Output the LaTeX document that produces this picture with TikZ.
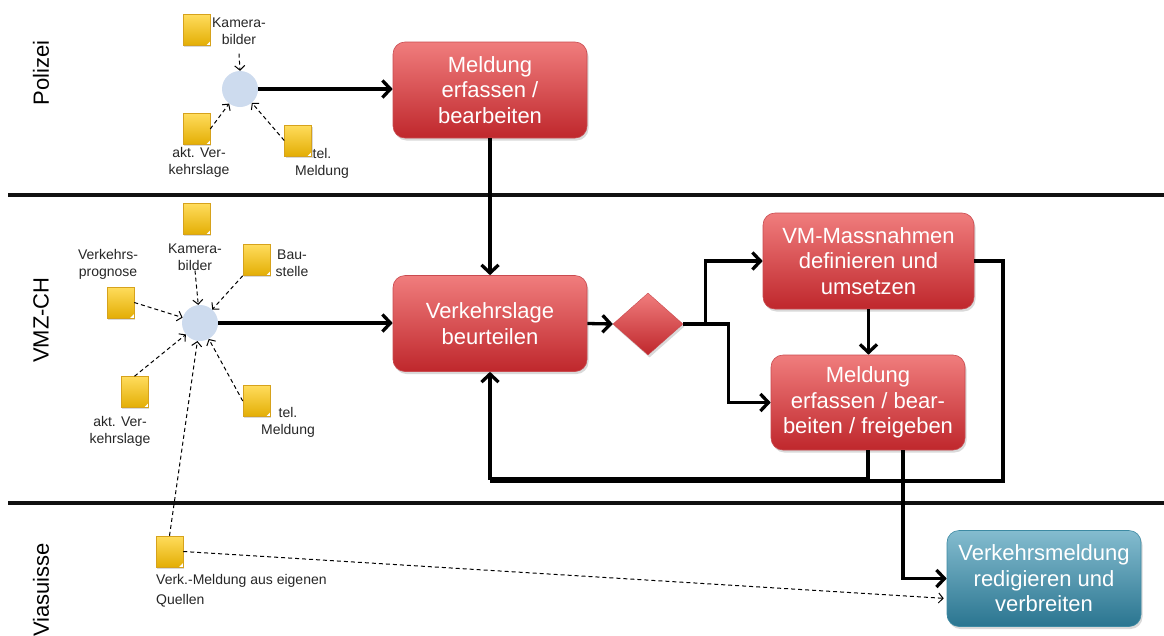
\documentclass[tikz,border=0pt]{standalone}
\usepackage{fontspec}
\setmainfont{Liberation Sans}
\usetikzlibrary{arrows.meta,shapes.geometric,shadows}
\definecolor{redtop}{HTML}{F07D7D}
\definecolor{redbot}{HTML}{BF272C}
\definecolor{redline}{HTML}{C94A4F}
\definecolor{bluetop}{HTML}{84BCCF}
\definecolor{bluebot}{HTML}{2A7590}
\definecolor{blueline}{HTML}{3D8AA3}
\definecolor{yeltop}{HTML}{FFDC5C}
\definecolor{yelbot}{HTML}{E3AE05}
\definecolor{yelline}{HTML}{D6A21C}
\definecolor{circfill}{HTML}{CDDBEE}
\definecolor{lanecol}{HTML}{111111}
\begin{document}
\begin{tikzpicture}[x=1pt,y=-1pt,
  proc/.style={rounded corners=12pt, top color=redtop, bottom color=redbot, draw=redline, line width=0.6pt,
    text=white, align=center, font=\fontsize{22}{25.5}\selectfont, minimum width=194pt, minimum height=96pt,
    inner sep=0pt, drop shadow={shadow xshift=1.5pt, shadow yshift=-2.5pt, opacity=0.3}},
  bproc/.style={proc, top color=bluetop, bottom color=bluebot, draw=blueline},
  dec/.style={diamond, aspect=1.13, minimum width=70pt, minimum height=62pt, inner sep=0pt,
    top color=redtop, bottom color=redbot, draw=redline, line width=0.4pt,
    drop shadow={shadow xshift=1.5pt, shadow yshift=-2.5pt, opacity=0.3}},
  note/.style={minimum width=27pt, minimum height=31pt, inner sep=0pt, top color=yeltop, bottom color=yelbot,
    draw=yelline, line width=0.5pt, drop shadow={shadow xshift=1pt, shadow yshift=-1.5pt, opacity=0.3},
    path picture={\fill[white] (path picture bounding box.south east) -- ++(-4pt,0) -- ++(4pt,4pt) -- cycle;}},
  hub/.style={circle, fill=circfill, minimum size=36pt, inner sep=0pt},
  lbl/.style={align=center, font=\fontsize{14}{17}\selectfont, inner sep=0pt, text=black!85},
  lane/.style={font=\fontsize{22}{26}\selectfont, rotate=90, inner sep=0pt},
  flow/.style={line width=3.3pt, -{Straight Barb[length=8pt,width=17pt]}},
  plain/.style={line width=3.3pt},
  dflow/.style={line width=1pt, dash pattern=on 4pt off 3pt, -{Straight Barb[length=4.5pt,width=10pt]}},
  sep/.style={line width=3.3pt, draw=lanecol}
]
\useasboundingbox (0,0) rectangle (1164,635);

% lane separators
\coordinate (s1a) at (8,195); \coordinate (s1b) at (1164,195);
\coordinate (s2a) at (8,503); \coordinate (s2b) at (1164,503);
\draw[sep] (s1a) -- (s1b);
\draw[sep] (s2a) -- (s2b);

% lane labels
\node[lane] (lp) at (41,73) {Polizei};
\node[lane] (lv) at (41,320) {VMZ-CH};
\node[lane] (lw) at (41,590) {Viasuisse};

% ---- Polizei lane
\node[hub] (pc) at (240,89) {};
\node[note] (pk) at (196.5,30) {};
\node[lbl] (pkl) at (239,31) {Kamera-\\bilder};
\node[note] (pa) at (196.5,129) {};
\node[lbl] (pal) at (199,162) {akt. Ver-\\kehrslage};
\node[note] (pt) at (298,140.5) {};
\node[lbl] (ptl) at (322,163) {tel.\\Meldung};
\node[proc] (pbox) at (490,90) {Meldung\\erfassen /\\bearbeiten};

\draw[dflow] ([yshift=-9pt]pkl.south) -- (pc.north);
\draw[dflow] (pa.east) -- (pc);
\draw[dflow] (pt.west) -- (pc);
\draw[flow] (pc.east) -- (pc.east -| pbox.west);

% ---- VMZ-CH lane
\node[hub] (vc) at (200,323) {};
\node[note] (vk) at (196.5,219) {};
\node[lbl] (vkl) at (195,257) {Kamera-\\bilder};
\node[note] (vb) at (256.5,260) {};
\node[lbl] (vbl) at (292,263) {Bau-\\stelle};
\node[note] (vp) at (120.5,302.5) {};
\node[lbl] (vpl) at (108,264) {Verkehrs-\\prognose};
\node[note] (va) at (134.5,392) {};
\node[lbl] (val) at (120,431) {akt. Ver-\\kehrslage};
\node[note] (vt) at (256.5,401) {};
\node[lbl] (vtl) at (288,422) {tel.\\Meldung};

\node[proc] (vl) at (490,323.5) {Verkehrslage\\beurteilen};
\node[dec] (dia) at (648,324) {};
\node[proc, minimum width=211pt] (vm) at (868.5,261) {VM-Massnahmen\\definieren und\\umsetzen};
\node[proc, minimum height=95pt] (me) at (868,402.5) {Meldung\\erfassen / bear-\\beiten / freigeben};

\draw[dflow] (vkl.south) -- (vc);
\draw[dflow] (vb.south west) -- (vc);
\draw[dflow] (vp.east) -- (vc);
\draw[dflow] (va.north) -- (vc);
\draw[dflow] (vt.west) -- (vc);
\draw[flow] (vc.east) -- (vc.east -| vl.west);

\draw[flow] (pbox.south) -- (vl.north);
\draw[flow] (vl.east) -- (dia.west);
\draw[flow] (dia.east) -- ++(22,0) |- (vm.west);
\draw[flow] (dia.east) -- ++(45,0) |- (me.west);
\draw[flow] (vm.south) -- (vm.south |- me.north);

\coordinate (fbr) at (1003,481);
\coordinate (fbl) at (490,481);
\draw[plain] (vm.east) -| (fbr) -- (fbl);
\draw[flow] (me.south) -- ++(0,28) -| (vl.south);

% ---- Viasuisse lane
\node[bproc] (vs) at (1044,578.5) {Verkehrsmeldung\\redigieren und\\verbreiten};
\node[note] (vq) at (169.5,551.5) {};
\node[lbl, anchor=north west, align=left, font=\fontsize{14}{20}\selectfont] (vql) at (156,574) {Verk.-Meldung aus eigenen\\Quellen};

\draw[dflow] (vq.north) -- (vc);
\draw[dflow, shorten >=3pt] (vq.east) -- ([yshift=-20pt]vs.west);
\draw[flow] ([xshift=35pt]me.south) |- (vs.west);
\end{tikzpicture}
\end{document}
